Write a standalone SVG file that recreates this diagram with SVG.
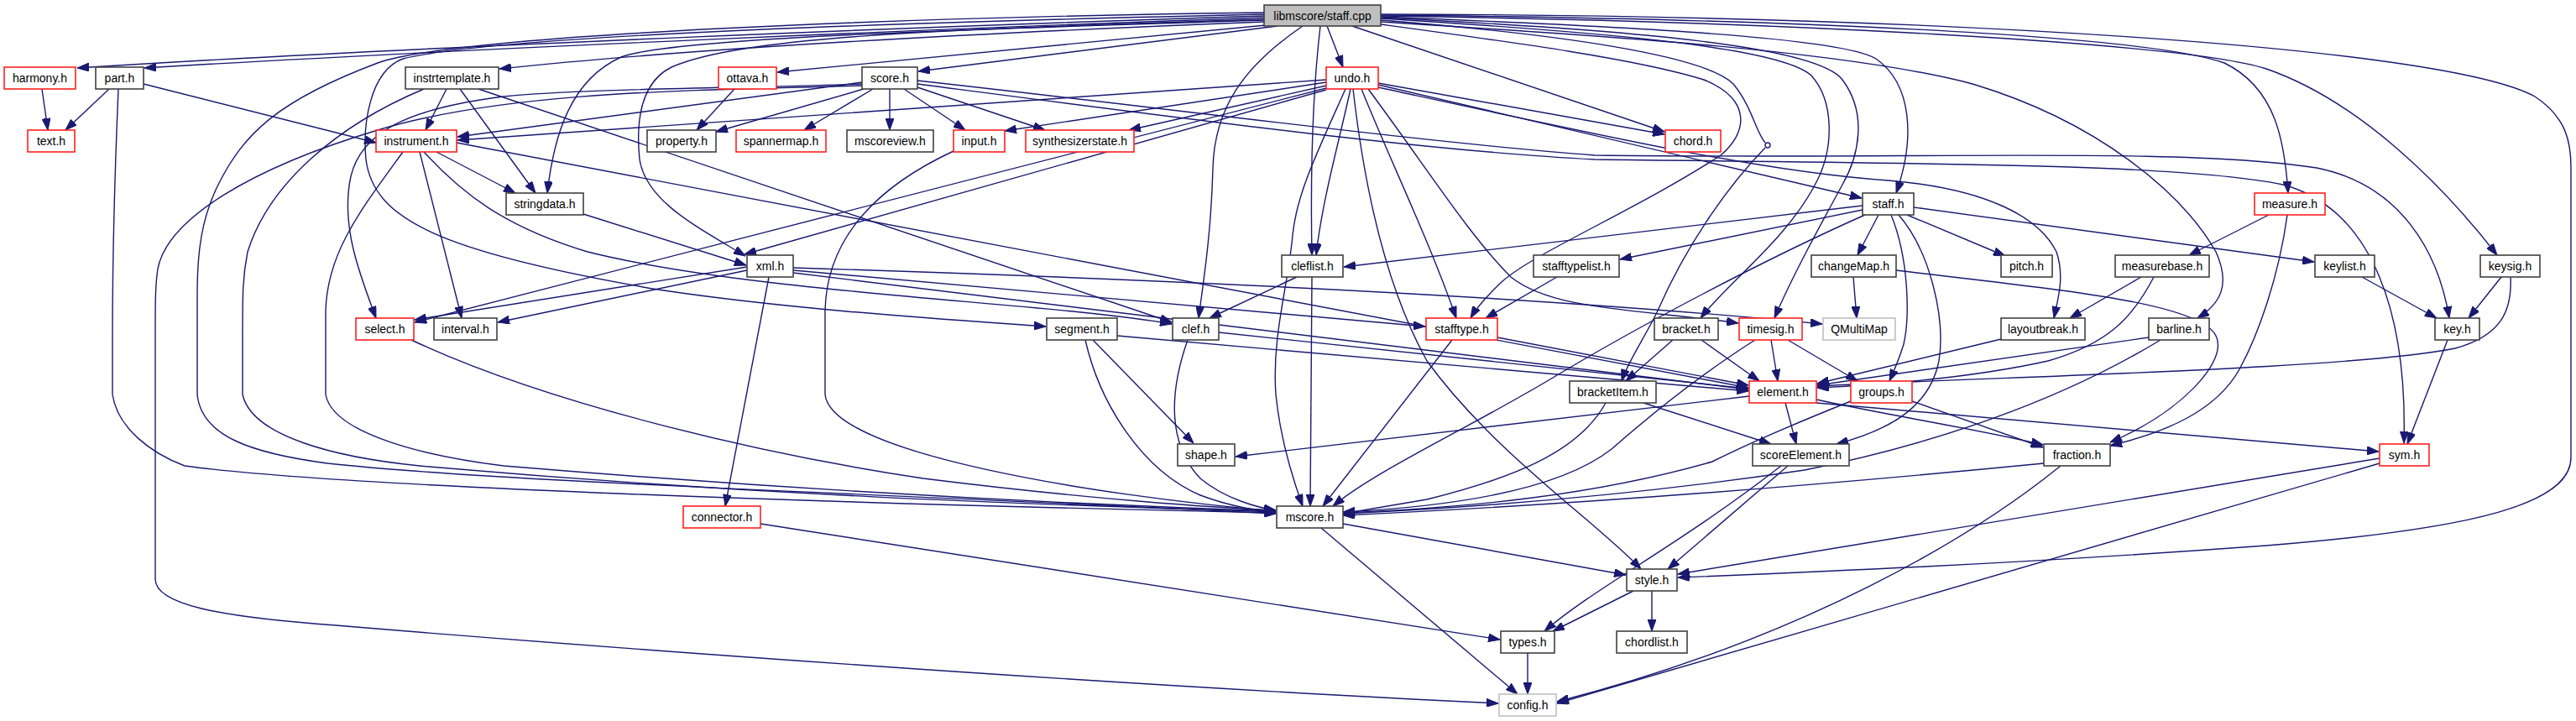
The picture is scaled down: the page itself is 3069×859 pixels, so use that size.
<svg xmlns="http://www.w3.org/2000/svg" width="3069" height="859" viewBox="0 0 3069 859">
<style>
.n rect{fill:#fff;stroke:#404040;stroke-width:1.6}
.n.r rect{stroke:#ff2020}
.n.g rect{stroke:#c0c0c0}
.n.root rect{fill:#bfbfbf;stroke:#404040}
.n text{font-family:"Liberation Sans",Arial,sans-serif;font-size:14px;fill:#000;text-anchor:middle}
#edges path{fill:none;stroke:#191970;stroke-width:1.4;marker-end:url(#a)}
</style>
<defs>
<marker id="a" markerWidth="14" markerHeight="10" refX="14" refY="5" orient="auto" markerUnits="userSpaceOnUse"><path d="M0,0 L14,5 L0,10 z" fill="#191970" stroke="#191970" stroke-width="1"/></marker>
</defs>
<rect width="3069" height="859" fill="#fff"/>
<g id="edges">
<path d="M1506,19 C1150,30 500,55 92,81"/>
<path d="M1506,21 C1150,33 550,58 172,81"/>
<path d="M1506,26 C1200,38 850,55 595,82"/>
<path d="M1508,30 L926,86"/>
<path d="M1522,31 L1094,85"/>
<path d="M1581,31 L1600,80"/>
<path d="M1573,31 C1565,100 1561,200 1563,304"/>
<path d="M1552,31 C1480,80 1447,130 1445,200 C1443,280 1433,340 1428,379"/>
<path d="M1506,23 C1100,35 880,45 800,80 C760,100 758,150 762,190 C770,240 830,270 888,305"/>
<path d="M1506,24 C1150,35 800,45 740,68 C680,95 660,160 652,230"/>
<path d="M1506,17 C1150,25 600,40 480,70 C440,85 432,150 436,190 C445,260 520,300 784,345 C950,370 1150,382 1246,389"/>
<path d="M1506,15 C1100,20 550,40 450,75 C330,120 290,160 260,220 C240,260 235,300 235,350 L235,470 C240,520 300,540 390,552 C600,575 1100,590 1520,612"/>
<path d="M1611,31 L1983,157"/>
<path d="M1645,29 C1800,50 1950,70 2030,95 C2090,120 2080,160 2050,185 C1950,250 1830,300 1790,335 C1772,352 1760,365 1752,379"/>
<path d="M1645,24 C1850,40 2030,65 2065,100 C2088,128 2092,158 2103,170 M2103,176 C2060,220 2010,290 1975,370 C1958,405 1940,430 1932,454"/>
<path d="M1645,22 C1900,38 2120,55 2158,90 C2185,120 2185,175 2165,215 C2130,285 2060,335 2026,379"/>
<path d="M1645,21 C1950,36 2165,55 2195,95 C2225,135 2215,185 2195,220 C2165,275 2135,330 2114,379"/>
<path d="M1645,20 C1950,32 2195,45 2235,70 C2278,100 2282,165 2259,230"/>
<path d="M1645,18 C2100,22 2550,40 2650,75 C2712,105 2722,170 2726,230"/>
<path d="M1645,19 C2100,25 2600,50 2700,82 C2810,120 2910,220 2975,304"/>
<path d="M1645,17 C2300,18 2910,55 3020,115 C3058,140 3063,170 3063,200 L3063,545 C3063,600 2950,630 2700,650 C2400,672 2150,682 1999,688"/>
<path d="M1645,26 C1900,42 2200,60 2350,100 C2500,145 2600,230 2640,300 C2658,340 2645,362 2618,379"/>
<path d="M1580,95 L545,167"/>
<path d="M1580,98 L1197,156"/>
<path d="M1580,102 L1345,155"/>
<path d="M1580,107 L887,303"/>
<path d="M1580,105 L494,384"/>
<path d="M1603,106 C1570,180 1545,230 1540,280 C1535,340 1515,400 1520,470 C1525,520 1540,570 1552,603"/>
<path d="M1609,106 C1595,170 1575,240 1568,304"/>
<path d="M1612,106 C1625,220 1650,340 1700,430 C1780,540 1900,620 1955,678"/>
<path d="M1622,106 C1660,200 1700,280 1735,379"/>
<path d="M1630,106 C1700,200 1750,280 1800,330 C1850,370 1950,368 2071,385"/>
<path d="M1642,99 L1983,160"/>
<path d="M1642,101 L2218,236"/>
<path d="M1642,104 C1900,160 2100,205 2250,215 C2370,225 2430,260 2450,300 C2460,330 2452,355 2447,379"/>
<path d="M1029,106 L853,157"/>
<path d="M1040,106 L958,155"/>
<path d="M1060,106 L1060,155"/>
<path d="M1077,106 L1150,155"/>
<path d="M1093,104 L1245,155"/>
<path d="M1027,98 L545,163"/>
<path d="M1027,100 C900,105 700,105 600,115 C480,130 430,160 418,210 C405,270 430,330 448,379"/>
<path d="M1027,102 C800,108 600,110 450,155 C300,200 200,260 188,320 C185,340 185,360 185,400 L185,690 C185,720 260,735 400,745 C700,770 1300,815 1785,838"/>
<path d="M1093,96 C1400,130 1700,170 1900,185 C2300,190 2600,175 2760,200 C2860,220 2905,300 2918,379"/>
<path d="M1093,100 C1400,140 1700,180 1900,190 C2300,195 2600,195 2720,220 C2830,250 2868,380 2864,528"/>
<path d="M130,106 L78,155"/>
<path d="M171,100 L448,170"/>
<path d="M141,106 C137,200 134,300 134,400 L134,470 C140,510 180,540 220,555 C400,580 1000,600 1520,611"/>
<path d="M50,106 L57,155"/>
<path d="M532,106 L507,155"/>
<path d="M548,106 L638,230"/>
<path d="M505,106 C400,150 320,220 295,300 C289,330 289,350 289,400 L289,470 C300,520 400,545 500,555 C900,590 1200,600 1520,610"/>
<path d="M570,106 L1396,384"/>
<path d="M875,106 L830,155"/>
<path d="M520,181 L614,230"/>
<path d="M500,181 L550,379"/>
<path d="M480,181 C430,250 390,300 388,370 L388,470 C395,510 480,540 600,555 C900,580 1200,598 1520,609"/>
<path d="M505,181 C550,230 600,270 700,300 C900,350 1250,360 1396,386"/>
<path d="M544,170 L2083,462"/>
<path d="M695,255 L889,316"/>
<path d="M916,330 L864,603"/>
<path d="M890,318 L494,381"/>
<path d="M890,322 L593,384"/>
<path d="M945,319 C1300,330 1800,350 2171,386"/>
<path d="M945,322 L1698,389"/>
<path d="M945,325 L2083,464"/>
<path d="M1545,330 L1441,379"/>
<path d="M1563,330 L1561,603"/>
<path d="M2219,245 L1601,318"/>
<path d="M2219,250 L1930,309"/>
<path d="M2238,256 L2213,304"/>
<path d="M2272,256 L2389,305"/>
<path d="M2280,247 L2757,312"/>
<path d="M2253,256 C2275,310 2275,380 2268,410 C2262,430 2255,445 2251,454"/>
<path d="M2262,256 C2300,300 2318,380 2310,430 C2300,480 2260,510 2188,529"/>
<path d="M2222,256 C2100,310 1950,390 1850,450 C1750,510 1640,560 1588,603"/>
<path d="M1855,330 L1770,379"/>
<path d="M2208,330 L2212,379"/>
<path d="M2259,322 C2450,345 2620,360 2640,400 C2655,430 2600,490 2514,527"/>
<path d="M2703,256 L2608,304"/>
<path d="M2725,256 C2715,330 2690,400 2668,440 C2640,490 2580,515 2514,531"/>
<path d="M2551,330 L2466,379"/>
<path d="M2566,330 C2540,380 2510,410 2440,430 C2350,450 2250,458 2165,462"/>
<path d="M2814,330 L2903,379"/>
<path d="M2980,330 L2941,379"/>
<path d="M2991,330 C2993,370 2980,400 2925,415 C2800,440 2400,448 2165,460"/>
<path d="M490,405 C650,480 900,540 1100,570 C1300,595 1450,605 1520,608"/>
<path d="M1136,180 C1050,220 985,280 983,370 L983,470 C990,540 1300,590 1520,609"/>
<path d="M1331,400 L2083,466"/>
<path d="M1302,405 L1422,528"/>
<path d="M1293,405 C1310,480 1360,560 1430,590 C1470,605 1500,608 1520,610"/>
<path d="M1452,396 L2083,463"/>
<path d="M1415,405 C1392,470 1392,530 1430,570 C1460,595 1500,605 1520,608"/>
<path d="M1784,402 L2083,459"/>
<path d="M1730,405 L1576,603"/>
<path d="M1993,405 L1937,454"/>
<path d="M2027,405 L2096,454"/>
<path d="M2110,405 L2118,454"/>
<path d="M2130,405 L2213,454"/>
<path d="M2091,405 C2020,450 1960,500 1920,535 C1850,590 1700,605 1600,610"/>
<path d="M1958,480 L2110,529"/>
<path d="M1913,480 C1880,540 1800,570 1700,595 L1600,612"/>
<path d="M2127,480 L2140,529"/>
<path d="M2084,472 L1472,544"/>
<path d="M2164,476 C2250,495 2350,510 2434,530"/>
<path d="M2164,480 L2834,538"/>
<path d="M2278,478 L2434,533"/>
<path d="M2205,478 C2100,520 2060,540 2040,550 C1900,590 1750,605 1600,611"/>
<path d="M2130,555 L1987,678"/>
<path d="M2122,555 C2000,650 1900,700 1840,752"/>
<path d="M2435,552 C2200,575 1900,600 1600,614"/>
<path d="M2455,555 C2350,640 2150,760 1855,836"/>
<path d="M2835,546 L1999,684"/>
<path d="M2835,552 L1855,838"/>
<path d="M2560,402 L2165,459"/>
<path d="M2574,405 C2450,480 2300,530 2150,560 C1950,590 1750,605 1600,612"/>
<path d="M2384,404 L2165,457"/>
<path d="M2916,405 L2868,529"/>
<path d="M906,624 L1787,762"/>
<path d="M1600,624 L1937,685"/>
<path d="M1574,629 L1808,827"/>
<path d="M1946,704 L1850,752"/>
<path d="M1968,704 L1968,752"/>
<path d="M1820,778 L1820,827"/>
<circle cx="2106" cy="173" r="3" fill="#fff" stroke="#191970" stroke-width="1.4"/>
</g>
<g id="n-root" class="n root"><rect x="1506" y="6" width="139" height="25"/><text x="1575.5" y="24">libmscore/staff.cpp</text></g>
<g id="n-harmony" class="n r"><rect x="5" y="80" width="85" height="26"/><text x="47.5" y="98">harmony.h</text></g>
<g id="n-part" class="n"><rect x="114" y="80" width="57" height="26"/><text x="142.5" y="98">part.h</text></g>
<g id="n-instrtemplate" class="n"><rect x="483" y="80" width="111" height="26"/><text x="538.5" y="98">instrtemplate.h</text></g>
<g id="n-ottava" class="n r"><rect x="856" y="80" width="69" height="26"/><text x="890.5" y="98">ottava.h</text></g>
<g id="n-score" class="n"><rect x="1027" y="80" width="66" height="26"/><text x="1060" y="98">score.h</text></g>
<g id="n-undo" class="n r"><rect x="1580" y="80" width="62" height="26"/><text x="1611" y="98">undo.h</text></g>
<g id="n-text" class="n r"><rect x="33" y="155" width="56" height="26"/><text x="61" y="173">text.h</text></g>
<g id="n-instrument" class="n r"><rect x="448" y="155" width="96" height="26"/><text x="496" y="173">instrument.h</text></g>
<g id="n-property" class="n"><rect x="771" y="155" width="82" height="26"/><text x="812" y="173">property.h</text></g>
<g id="n-spannermap" class="n r"><rect x="877" y="155" width="107" height="26"/><text x="930.5" y="173">spannermap.h</text></g>
<g id="n-mscoreview" class="n"><rect x="1009" y="155" width="103" height="26"/><text x="1060.5" y="173">mscoreview.h</text></g>
<g id="n-input" class="n r"><rect x="1136" y="155" width="61" height="26"/><text x="1166.5" y="173">input.h</text></g>
<g id="n-synthesizerstate" class="n r"><rect x="1222" y="155" width="129" height="26"/><text x="1286.5" y="173">synthesizerstate.h</text></g>
<g id="n-chord" class="n r"><rect x="1984" y="155" width="66" height="26"/><text x="2017" y="173">chord.h</text></g>
<g id="n-stringdata" class="n"><rect x="603" y="230" width="92" height="26"/><text x="649" y="248">stringdata.h</text></g>
<g id="n-staff" class="n"><rect x="2219" y="230" width="61" height="26"/><text x="2249.5" y="248">staff.h</text></g>
<g id="n-measure" class="n r"><rect x="2686" y="230" width="84" height="26"/><text x="2728" y="248">measure.h</text></g>
<g id="n-xml" class="n"><rect x="890" y="304" width="55" height="26"/><text x="917.5" y="322">xml.h</text></g>
<g id="n-cleflist" class="n"><rect x="1527" y="304" width="73" height="26"/><text x="1563.5" y="322">cleflist.h</text></g>
<g id="n-stafftypelist" class="n"><rect x="1827" y="304" width="102" height="26"/><text x="1878" y="322">stafftypelist.h</text></g>
<g id="n-changeMap" class="n"><rect x="2158" y="304" width="101" height="26"/><text x="2208.5" y="322">changeMap.h</text></g>
<g id="n-pitch" class="n"><rect x="2384" y="304" width="61" height="26"/><text x="2414.5" y="322">pitch.h</text></g>
<g id="n-measurebase" class="n"><rect x="2520" y="304" width="112" height="26"/><text x="2576" y="322">measurebase.h</text></g>
<g id="n-keylist" class="n"><rect x="2758" y="304" width="71" height="26"/><text x="2793.5" y="322">keylist.h</text></g>
<g id="n-keysig" class="n"><rect x="2955" y="304" width="71" height="26"/><text x="2990.5" y="322">keysig.h</text></g>
<g id="n-select" class="n r"><rect x="424" y="379" width="69" height="26"/><text x="458.5" y="397">select.h</text></g>
<g id="n-interval" class="n"><rect x="517" y="379" width="75" height="26"/><text x="554.5" y="397">interval.h</text></g>
<g id="n-segment" class="n"><rect x="1247" y="379" width="84" height="26"/><text x="1289" y="397">segment.h</text></g>
<g id="n-clef" class="n"><rect x="1397" y="379" width="55" height="26"/><text x="1424.5" y="397">clef.h</text></g>
<g id="n-stafftype" class="n r"><rect x="1699" y="379" width="85" height="26"/><text x="1741.5" y="397">stafftype.h</text></g>
<g id="n-bracket" class="n"><rect x="1971" y="379" width="76" height="26"/><text x="2009" y="397">bracket.h</text></g>
<g id="n-timesig" class="n r"><rect x="2072" y="379" width="75" height="26"/><text x="2109.5" y="397">timesig.h</text></g>
<g id="n-QMultiMap" class="n g"><rect x="2172" y="379" width="86" height="26"/><text x="2215" y="397">QMultiMap</text></g>
<g id="n-layoutbreak" class="n"><rect x="2384" y="379" width="100" height="26"/><text x="2434" y="397">layoutbreak.h</text></g>
<g id="n-barline" class="n"><rect x="2560" y="379" width="72" height="26"/><text x="2596" y="397">barline.h</text></g>
<g id="n-key" class="n"><rect x="2901" y="379" width="53" height="26"/><text x="2927.5" y="397">key.h</text></g>
<g id="n-bracketItem" class="n"><rect x="1870" y="454" width="103" height="26"/><text x="1921.5" y="472">bracketItem.h</text></g>
<g id="n-element" class="n r"><rect x="2084" y="454" width="80" height="26"/><text x="2124" y="472">element.h</text></g>
<g id="n-groups" class="n r"><rect x="2205" y="454" width="73" height="26"/><text x="2241.5" y="472">groups.h</text></g>
<g id="n-shape" class="n"><rect x="1403" y="529" width="68" height="26"/><text x="1437" y="547">shape.h</text></g>
<g id="n-scoreElement" class="n"><rect x="2088" y="529" width="115" height="26"/><text x="2145.5" y="547">scoreElement.h</text></g>
<g id="n-fraction" class="n"><rect x="2435" y="529" width="79" height="26"/><text x="2474.5" y="547">fraction.h</text></g>
<g id="n-sym" class="n r"><rect x="2835" y="529" width="59" height="26"/><text x="2864.5" y="547">sym.h</text></g>
<g id="n-connector" class="n r"><rect x="814" y="603" width="92" height="26"/><text x="860" y="621">connector.h</text></g>
<g id="n-mscore" class="n"><rect x="1521" y="603" width="79" height="26"/><text x="1560.5" y="621">mscore.h</text></g>
<g id="n-style" class="n"><rect x="1938" y="678" width="60" height="26"/><text x="1968" y="696">style.h</text></g>
<g id="n-types" class="n"><rect x="1788" y="752" width="64" height="26"/><text x="1820" y="770">types.h</text></g>
<g id="n-chordlist" class="n"><rect x="1926" y="752" width="84" height="26"/><text x="1968" y="770">chordlist.h</text></g>
<g id="n-config" class="n g"><rect x="1786" y="827" width="68" height="26"/><text x="1820" y="845">config.h</text></g>
</svg>
